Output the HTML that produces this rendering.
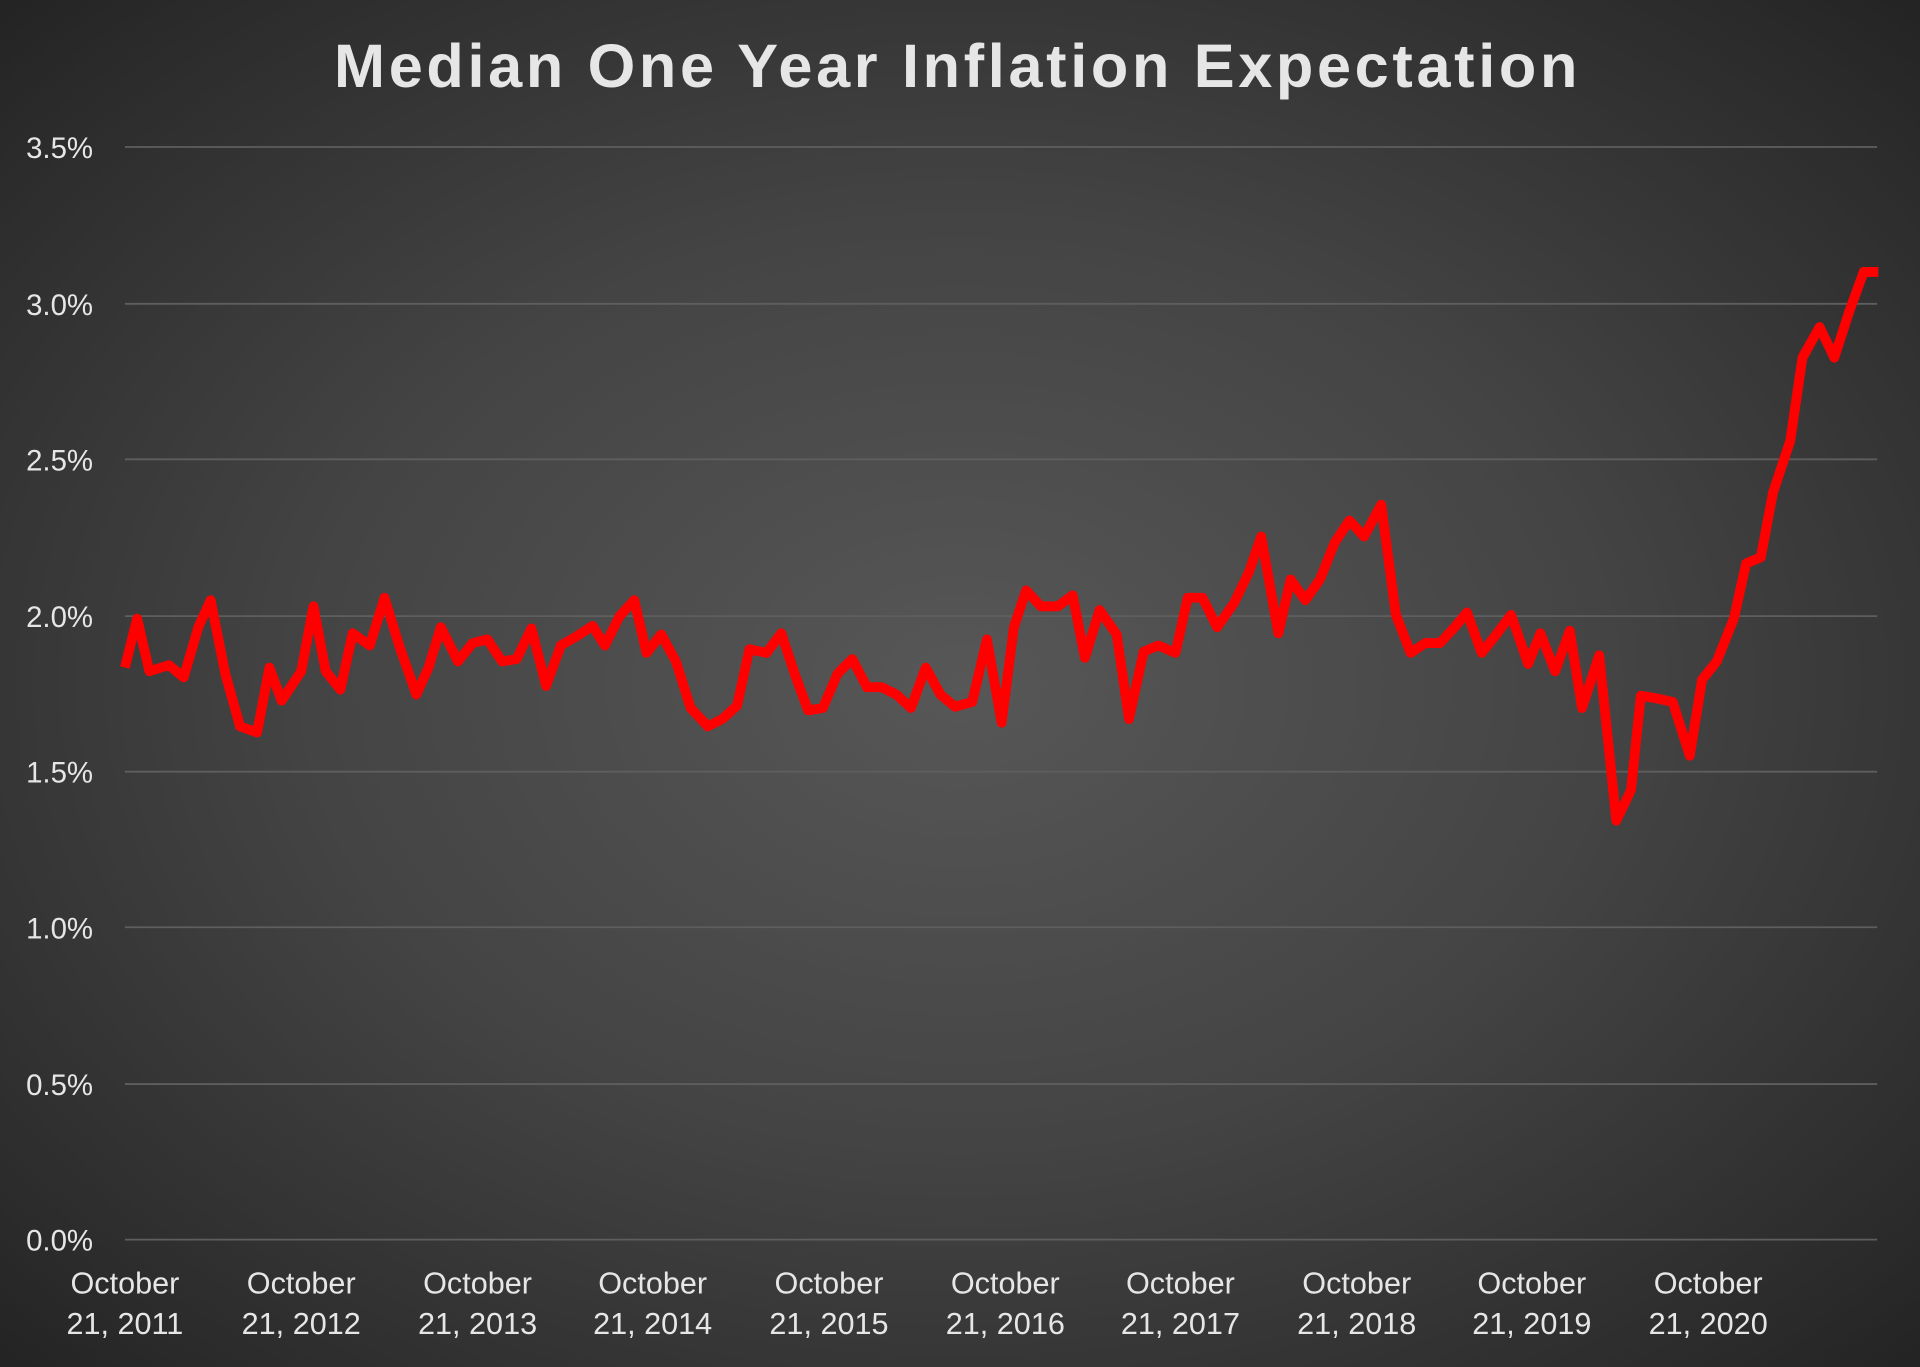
<!DOCTYPE html>
<html><head><meta charset="utf-8"><style>
html,body{margin:0;padding:0;}
body{width:1920px;height:1367px;overflow:hidden;background:radial-gradient(ellipse 75% 75% at 50% 50%,#575757 0%,#444 45%,#2a2a2a 85%,#1f1f1f 100%);}
svg{display:block}
text{font-family:"Liberation Sans","DejaVu Sans",sans-serif;fill:#e6e6e6}
</style></head><body>
<svg width="1920" height="1367" viewBox="0 0 1568 1116" preserveAspectRatio="none">
<text x="782" y="71" text-anchor="middle" font-size="50" font-weight="bold" fill="#f0f0f0" letter-spacing="3">Median One Year Inflation Expectation</text>
<g stroke="#5e5e5e" stroke-width="1.5">
<line x1="102" x2="1533" y1="120" y2="120"/>
<line x1="102" x2="1533" y1="248" y2="248"/>
<line x1="102" x2="1533" y1="375" y2="375"/>
<line x1="102" x2="1533" y1="503" y2="503"/>
<line x1="102" x2="1533" y1="630" y2="630"/>
<line x1="102" x2="1533" y1="757" y2="757"/>
<line x1="102" x2="1533" y1="885" y2="885"/>
<line x1="102" x2="1533" y1="1012" y2="1012"/>
</g>
<g font-size="24" text-anchor="end">
<text x="76" y="129">3.5%</text><text x="76" y="257">3.0%</text><text x="76" y="384">2.5%</text><text x="76" y="512">2.0%</text><text x="76" y="639">1.5%</text><text x="76" y="766">1.0%</text><text x="76" y="894">0.5%</text><text x="76" y="1021">0.0%</text>
</g>
<g font-size="25" text-anchor="middle">
<text x="102" y="1056">October</text><text x="102" y="1089">21, 2011</text>
<text x="246" y="1056">October</text><text x="246" y="1089">21, 2012</text>
<text x="390" y="1056">October</text><text x="390" y="1089">21, 2013</text>
<text x="533" y="1056">October</text><text x="533" y="1089">21, 2014</text>
<text x="677" y="1056">October</text><text x="677" y="1089">21, 2015</text>
<text x="821" y="1056">October</text><text x="821" y="1089">21, 2016</text>
<text x="964" y="1056">October</text><text x="964" y="1089">21, 2017</text>
<text x="1108" y="1056">October</text><text x="1108" y="1089">21, 2018</text>
<text x="1251" y="1056">October</text><text x="1251" y="1089">21, 2019</text>
<text x="1395" y="1056">October</text><text x="1395" y="1089">21, 2020</text>
</g>
<polyline fill="none" stroke="#ff0000" stroke-width="8" stroke-linejoin="round" points="102,545 112,505 122,548 138,543 150,553 162,512 172,490 184,550 196,593 210,598 220,545 230,572 246,548 256,495 266,548 278,563 288,517 302,527 314,488 326,527 340,567 350,545 360,512 374,540 386,525 398,522 410,540 422,538 434,513 446,560 458,527 470,520 484,511 494,527 506,503 518,490 528,533 540,518 552,540 564,578 578,593 590,587 602,576 612,530 626,533 638,517 650,553 660,580 672,578 684,550 696,538 708,561 720,561 732,567 744,578 756,545 768,567 780,577 794,573 806,522 818,590 828,512 838,482 850,495 864,495 876,486 886,537 898,498 912,518 922,587 934,532 946,527 960,533 970,488 982,488 994,512 1008,492 1020,467 1030,438 1044,517 1054,473 1066,490 1078,473 1090,443 1102,425 1114,438 1128,412 1140,502 1152,533 1164,525 1176,525 1188,512 1198,500 1210,533 1222,518 1234,502 1248,542 1258,517 1270,548 1282,515 1292,578 1306,535 1320,670 1332,645 1340,568 1352,570 1366,573 1380,617 1390,555 1402,540 1416,505 1426,460 1438,455 1448,402 1462,360 1472,292 1486,267 1498,292 1510,255 1522,222 1534,222"/>
</svg>
</body></html>
